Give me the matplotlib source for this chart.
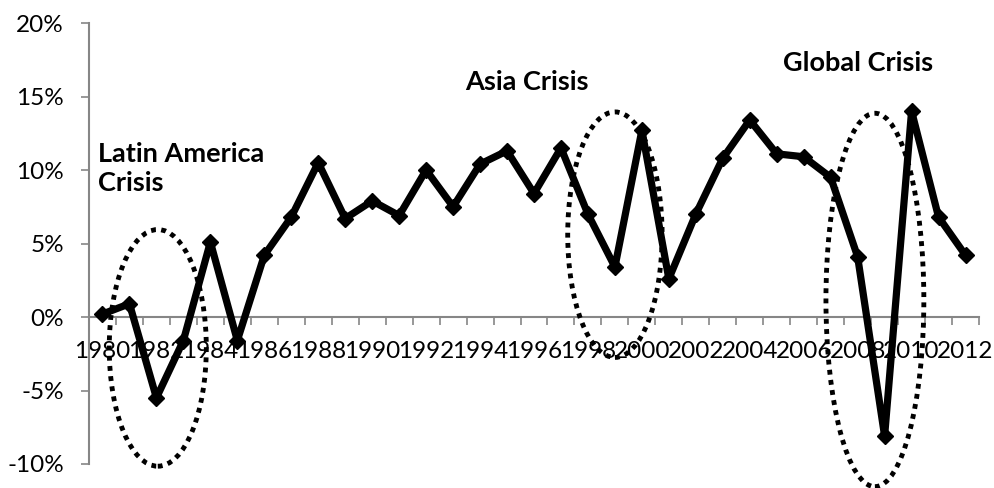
import numpy as np
import matplotlib.pyplot as plt
from matplotlib.patches import Ellipse

# Annual growth rate (%)
years = list(range(1980, 2013))
growth = [0.2, 0.9, -5.5, -1.6, 5.1, -1.6, 4.2, 6.8, 10.5, 6.7,
          7.9, 6.9, 10.0, 7.5, 10.4, 11.3, 8.4, 11.5, 7.0, 3.4,
          12.7, 2.6, 7.0, 10.8, 13.4, 11.1, 10.9, 9.5, 4.1, -8.1,
          14.0, 6.8, 4.2]

# crisis labels and the dotted ellipses around them (category index, %)
crisis_names = ['Latin America\nCrisis', 'Asia Crisis', 'Global Crisis']
crisis_text_pos = [(-0.17, 10.07), (13.44, 15.97), (25.22, 17.27)]
crisis_ellipses = [(2.05, -2.1, 3.6, 16.1), (19.0, 5.6, 3.5, 16.7), (28.64, 1.16, 3.63, 25.4)]

y_ticks = [-10, -5, 0, 5, 10, 15, 20]

plt.rcParams['font.family'] = ['Lato', 'DejaVu Sans']
axis_grey = '#868686'

fig = plt.figure(figsize=(9.95, 4.88), dpi=100)
ax = fig.add_axes([89 / 995, 24 / 488, 890 / 995, 441 / 488])

x = np.arange(len(years))
ax.plot(x, growth, color='black', linewidth=5.2, marker='D', markersize=8,
        markeredgewidth=1, solid_joinstyle='round', zorder=3, clip_on=False)

for (cx, cy, w, h) in crisis_ellipses:
    ax.add_patch(Ellipse((cx, cy), w, h, fill=False, edgecolor='black',
                         linewidth=3.5, linestyle=(0, (1, 1.1)), clip_on=False, zorder=4))

for name, (tx, ty) in zip(crisis_names, crisis_text_pos):
    ax.text(tx, ty, name, fontsize=19.5, fontweight='bold', ha='left', va='center',
            linespacing=1.25)

ax.set_xlim(-0.5, len(years) - 0.5)
ax.set_ylim(-10, 20)

ax.set_yticks(y_ticks)
ax.set_yticklabels([f'{v}%' for v in y_ticks])

ax.set_xticks(x[::2])
ax.set_xticklabels([str(y) for y in years[::2]])
ax.set_xticks(np.arange(len(years) + 1) - 0.5, minor=True)

for side in ['top', 'right']:
    ax.spines[side].set_visible(False)
ax.spines['bottom'].set_position(('data', 0))
for side in ['left', 'bottom']:
    ax.spines[side].set_color(axis_grey)
    ax.spines[side].set_linewidth(1.5)

ax.tick_params(axis='y', direction='out', length=6, width=1.2, color=axis_grey,
               pad=12, labelsize=17.5)
ax.tick_params(axis='x', which='major', length=0, pad=17, labelsize=17.5)
ax.tick_params(axis='x', which='minor', direction='out', length=6, width=1.2,
               color=axis_grey)

fig.savefig('out.png', dpi=100)
